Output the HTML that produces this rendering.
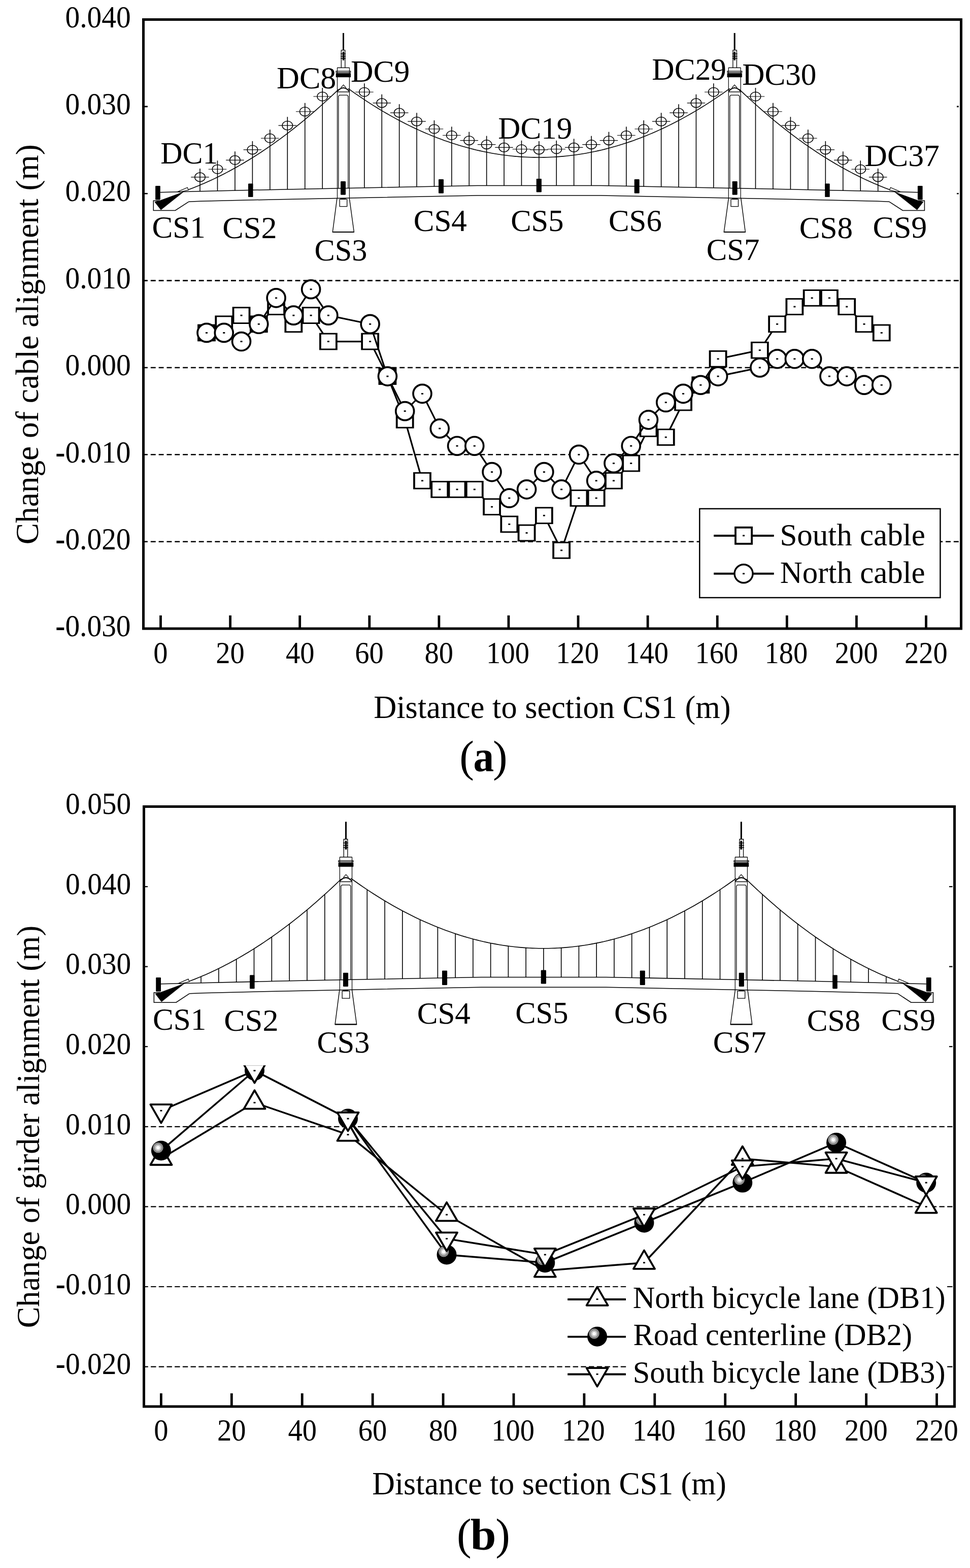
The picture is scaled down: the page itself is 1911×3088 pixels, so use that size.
<!DOCTYPE html>
<html><head><meta charset="utf-8"><title>Cable and girder alignment change</title><style>html,body{margin:0;padding:0;background:#fff;}svg{display:block;}</style></head><body>
<svg width="1911" height="3088" viewBox="0 0 1911 3088">
<rect x="0" y="0" width="1911" height="3088" fill="#fff"/>
<g style="font-family:'Liberation Serif','Times New Roman',serif" fill="#000" stroke="#000">
<g stroke-width="3" stroke-dasharray="9.9 5.92" fill="none">
<line x1="281" y1="209.88" x2="1890.5" y2="209.88" stroke-width="2.6" />
<line x1="281" y1="381.24" x2="1890.5" y2="381.24" stroke-width="2.6" />
<line x1="281" y1="552.6" x2="1890.5" y2="552.6" stroke-width="2.6" />
<line x1="281" y1="723.96" x2="1890.5" y2="723.96" stroke-width="2.6" />
<line x1="281" y1="895.32" x2="1890.5" y2="895.32" stroke-width="2.6" />
<line x1="281" y1="1066.68" x2="1890.5" y2="1066.68" stroke-width="2.6" />
</g>
<rect x="291" y="42" width="1594" height="488" fill="#fff" stroke="none"/>
<g fill="none" stroke-linecap="butt">
<polyline points="371.7,373.35 376.71,371.45 381.71,369.5 386.72,367.5 391.72,365.45 396.73,363.35 401.73,361.2 406.74,359 411.74,356.75 416.75,354.45 421.75,352.1 426.76,349.7 431.76,347.25 436.77,344.75 441.77,342.2 446.78,339.61 451.78,336.96 456.79,334.26 461.79,331.51 466.8,328.72 471.8,325.87 476.81,322.97 481.81,320.03 486.82,317.03 491.82,313.99 496.83,310.89 501.83,307.75 506.84,304.55 511.84,301.31 516.85,298.01 521.85,294.67 526.86,291.27 531.86,287.83 536.87,284.34 541.87,280.79 546.88,277.2 551.88,273.56 556.89,269.86 561.89,266.12 566.9,262.33 571.9,258.49 576.91,254.6 581.91,250.65 586.92,246.66 591.92,242.62 596.93,238.53 601.93,234.39 606.94,230.2 611.94,225.96 616.95,221.67 621.95,217.33 626.96,212.94 631.96,208.5 636.97,204.01 641.97,199.48 646.98,194.89 651.98,190.25 656.99,185.56 661.99,180.82 667,176.04" fill="none" stroke-width="1.6" />
<polyline points="1752,373.35 1746.99,371.45 1741.99,369.5 1736.98,367.5 1731.98,365.45 1726.97,363.35 1721.97,361.2 1716.96,359 1711.96,356.75 1706.95,354.45 1701.95,352.1 1696.94,349.7 1691.94,347.25 1686.93,344.75 1681.93,342.2 1676.92,339.61 1671.92,336.96 1666.91,334.26 1661.91,331.51 1656.9,328.72 1651.9,325.87 1646.89,322.97 1641.89,320.03 1636.88,317.03 1631.88,313.99 1626.87,310.89 1621.87,307.75 1616.86,304.55 1611.86,301.31 1606.85,298.01 1601.85,294.67 1596.84,291.27 1591.84,287.83 1586.83,284.34 1581.83,280.79 1576.82,277.2 1571.82,273.56 1566.81,269.86 1561.81,266.12 1556.8,262.33 1551.8,258.49 1546.79,254.6 1541.79,250.65 1536.78,246.66 1531.78,242.62 1526.77,238.53 1521.77,234.39 1516.76,230.2 1511.76,225.96 1506.75,221.67 1501.75,217.33 1496.74,212.94 1491.74,208.5 1486.73,204.01 1481.73,199.48 1476.72,194.89 1471.72,190.25 1466.71,185.56 1461.71,180.82 1456.7,176.04" fill="none" stroke-width="1.6" />
<polyline points="686,174.32 692.32,178.84 698.63,183.29 704.95,187.66 711.27,191.95 717.58,196.16 723.9,200.3 730.22,204.37 736.53,208.35 742.85,212.26 749.17,216.09 755.48,219.85 761.8,223.53 768.12,227.13 774.44,230.66 780.75,234.11 787.07,237.48 793.39,240.78 799.7,243.99 806.02,247.14 812.34,250.2 818.65,253.19 824.97,256.11 831.29,258.94 837.6,261.7 843.92,264.38 850.24,266.99 856.55,269.52 862.87,271.97 869.19,274.35 875.5,276.65 881.82,278.87 888.14,281.02 894.45,283.09 900.77,285.08 907.09,287 913.41,288.83 919.72,290.6 926.04,292.28 932.36,293.89 938.67,295.43 944.99,296.88 951.31,298.26 957.62,299.57 963.94,300.79 970.26,301.94 976.57,303.02 982.89,304.01 989.21,304.93 995.52,305.77 1001.84,306.54 1008.16,307.23 1014.47,307.84 1020.79,308.38 1027.11,308.84 1033.42,309.22 1039.74,309.53 1046.06,309.76 1052.37,309.91 1058.69,309.99 1065.01,309.99 1071.33,309.91 1077.64,309.76 1083.96,309.53 1090.28,309.22 1096.59,308.84 1102.91,308.38 1109.23,307.84 1115.54,307.23 1121.86,306.54 1128.18,305.77 1134.49,304.93 1140.81,304.01 1147.13,303.02 1153.44,301.94 1159.76,300.79 1166.08,299.57 1172.39,298.26 1178.71,296.88 1185.03,295.43 1191.34,293.89 1197.66,292.28 1203.98,290.6 1210.29,288.83 1216.61,287 1222.93,285.08 1229.25,283.09 1235.56,281.02 1241.88,278.87 1248.2,276.65 1254.51,274.35 1260.83,271.97 1267.15,269.52 1273.46,266.99 1279.78,264.38 1286.1,261.7 1292.41,258.94 1298.73,256.11 1305.05,253.19 1311.36,250.2 1317.68,247.14 1324,243.99 1330.31,240.78 1336.63,237.48 1342.95,234.11 1349.26,230.66 1355.58,227.13 1361.9,223.53 1368.22,219.85 1374.53,216.09 1380.85,212.26 1387.17,208.35 1393.48,204.37 1399.8,200.3 1406.12,196.16 1412.43,191.95 1418.75,187.66 1425.07,183.29 1431.38,178.84 1437.7,174.32" fill="none" stroke-width="1.6" />
<line x1="394" y1="331.9" x2="394" y2="376.83" stroke-width="1.6" />
<line x1="428.46" y1="316.27" x2="428.46" y2="376.02" stroke-width="1.6" />
<line x1="462.92" y1="298.29" x2="462.92" y2="375.21" stroke-width="1.6" />
<line x1="497.38" y1="277.95" x2="497.38" y2="374.4" stroke-width="1.6" />
<line x1="531.84" y1="255.24" x2="531.84" y2="373.59" stroke-width="1.6" />
<line x1="566.3" y1="230.18" x2="566.3" y2="372.87" stroke-width="1.6" />
<line x1="600.76" y1="202.77" x2="600.76" y2="372.18" stroke-width="1.6" />
<line x1="635.22" y1="172.99" x2="635.22" y2="371.48" stroke-width="1.6" />
<line x1="717.85" y1="164.24" x2="717.85" y2="369.85" stroke-width="1.6" />
<line x1="752.25" y1="185.84" x2="752.25" y2="369.19" stroke-width="1.6" />
<line x1="786.65" y1="205.16" x2="786.65" y2="368.53" stroke-width="1.6" />
<line x1="821.05" y1="222.21" x2="821.05" y2="367.87" stroke-width="1.6" />
<line x1="855.45" y1="236.98" x2="855.45" y2="367.22" stroke-width="1.6" />
<line x1="889.85" y1="249.49" x2="889.85" y2="366.56" stroke-width="1.6" />
<line x1="924.25" y1="259.71" x2="924.25" y2="365.9" stroke-width="1.6" />
<line x1="958.65" y1="267.67" x2="958.65" y2="365.6" stroke-width="1.6" />
<line x1="993.05" y1="273.35" x2="993.05" y2="365.6" stroke-width="1.6" />
<line x1="1027.45" y1="276.76" x2="1027.45" y2="365.6" stroke-width="1.6" />
<line x1="1061.85" y1="277.9" x2="1061.85" y2="365.6" stroke-width="1.6" />
<line x1="1096.25" y1="276.76" x2="1096.25" y2="365.6" stroke-width="1.6" />
<line x1="1130.65" y1="273.35" x2="1130.65" y2="365.6" stroke-width="1.6" />
<line x1="1165.05" y1="267.67" x2="1165.05" y2="365.6" stroke-width="1.6" />
<line x1="1199.45" y1="259.71" x2="1199.45" y2="365.9" stroke-width="1.6" />
<line x1="1233.85" y1="249.49" x2="1233.85" y2="366.56" stroke-width="1.6" />
<line x1="1268.25" y1="236.98" x2="1268.25" y2="367.22" stroke-width="1.6" />
<line x1="1302.65" y1="222.21" x2="1302.65" y2="367.87" stroke-width="1.6" />
<line x1="1337.05" y1="205.16" x2="1337.05" y2="368.53" stroke-width="1.6" />
<line x1="1371.45" y1="185.84" x2="1371.45" y2="369.19" stroke-width="1.6" />
<line x1="1405.85" y1="164.24" x2="1405.85" y2="369.85" stroke-width="1.6" />
<line x1="1488.48" y1="172.99" x2="1488.48" y2="371.48" stroke-width="1.6" />
<line x1="1522.94" y1="202.77" x2="1522.94" y2="372.18" stroke-width="1.6" />
<line x1="1557.4" y1="230.18" x2="1557.4" y2="372.87" stroke-width="1.6" />
<line x1="1591.86" y1="255.24" x2="1591.86" y2="373.59" stroke-width="1.6" />
<line x1="1626.32" y1="277.95" x2="1626.32" y2="374.4" stroke-width="1.6" />
<line x1="1660.78" y1="298.29" x2="1660.78" y2="375.21" stroke-width="1.6" />
<line x1="1695.24" y1="316.27" x2="1695.24" y2="376.02" stroke-width="1.6" />
<line x1="1729.7" y1="331.9" x2="1729.7" y2="376.83" stroke-width="1.6" />
<polyline points="315.8,378.8 395,376.8 540,373.4 689,370.4 940,365.6 1061.85,365.6 1183.7,365.6 1434.7,370.4 1583.7,373.4 1728.7,376.8 1807.9,378.8" fill="none" stroke-width="1.5" />
<polyline points="371.7,397.3 395,396.3 540,392.9 689,389.9 940,385.1 1061.85,385.1 1183.7,385.1 1434.7,389.9 1583.7,392.9 1728.7,396.3 1752,397.3" fill="none" stroke-width="1.5" />
<polyline points="315,395.3 302.3,395.3 302.3,414.5 345.3,414.5 371.7,397.3" fill="none" stroke-width="1.5" />
<polygon points="304.9,397.7 314.5,395.3 361,378.2 317,413.2" fill="#000" stroke-width="0.8" />
<polygon points="350,377.6 369.2,369.3 371.3,374.3 354.5,378.2" fill="none" stroke-width="1.2" />
<line x1="676.5" y1="65" x2="676.5" y2="99" stroke-width="3" />
<polyline points="672.3,133.3 672.3,98.8 679.8,98.8 679.8,133.3" fill="none" stroke-width="1.3" />
<polygon points="675,102 678,102 678,118.5 675,118.5" fill="#000" stroke-width="0.5" />
<line x1="671" y1="106" x2="681" y2="106" stroke-width="1.4" />
<line x1="671" y1="110.7" x2="681" y2="110.7" stroke-width="1.4" />
<line x1="671" y1="114.9" x2="681" y2="114.9" stroke-width="1.4" />
<line x1="664.2" y1="133.4" x2="688.7" y2="133.4" stroke-width="1.4" />
<polygon points="662,140.1 690.7,140.1 690.7,142.6 662,142.6" fill="none" stroke-width="1.2" />
<polygon points="662,144.3 690.9,144.3 690.9,151.9 662,151.9" fill="#000" stroke-width="0.5" />
<line x1="664.5" y1="133.4" x2="664.5" y2="390.3" stroke-width="1.2" />
<line x1="688.4" y1="133.4" x2="688.4" y2="390.3" stroke-width="1.2" />
<polyline points="671.4,172.8 676.6,167.2 681.8,172.8" fill="none" stroke-width="1.2" />
<path d="M 664.9,179.5 Q 676.4,166.5 687.9,179.5" fill="none" stroke-width="2.2"/>
<line x1="664.5" y1="181" x2="688.4" y2="181" stroke-width="1.4" />
<polyline points="666.8,370.5 666.8,189.5 668.8,187.3 683.9,187.3 685.9,189.5 685.9,370.5" fill="none" stroke-width="1.3" />
<polyline points="664,390.3 655.3,457 697.4,457 688.3,390.3" fill="none" stroke-width="1.4" />
<line x1="655.3" y1="457" x2="697.4" y2="457" stroke-width="2.2" />
<polygon points="669.2,392.3 683.7,392.3 683.7,406.6 669.2,406.6" fill="none" stroke-width="1.3" />
<polygon points="671,390.3 680.7,390.3 680.7,392.5 671,392.5" fill="#000" stroke-width="0.5" />
<polyline points="1808.7,395.3 1821.4,395.3 1821.4,414.5 1778.4,414.5 1752,397.3" fill="none" stroke-width="1.5" />
<polygon points="1818.8,397.7 1809.2,395.3 1762.7,378.2 1806.7,413.2" fill="#000" stroke-width="0.8" />
<polygon points="1773.7,377.6 1754.5,369.3 1752.4,374.3 1769.2,378.2" fill="none" stroke-width="1.2" />
<line x1="1447.2" y1="65" x2="1447.2" y2="99" stroke-width="3" />
<polyline points="1451.4,133.3 1451.4,98.8 1443.9,98.8 1443.9,133.3" fill="none" stroke-width="1.3" />
<polygon points="1448.7,102 1445.7,102 1445.7,118.5 1448.7,118.5" fill="#000" stroke-width="0.5" />
<line x1="1452.7" y1="106" x2="1442.7" y2="106" stroke-width="1.4" />
<line x1="1452.7" y1="110.7" x2="1442.7" y2="110.7" stroke-width="1.4" />
<line x1="1452.7" y1="114.9" x2="1442.7" y2="114.9" stroke-width="1.4" />
<line x1="1459.5" y1="133.4" x2="1435" y2="133.4" stroke-width="1.4" />
<polygon points="1461.7,140.1 1433,140.1 1433,142.6 1461.7,142.6" fill="none" stroke-width="1.2" />
<polygon points="1461.7,144.3 1432.8,144.3 1432.8,151.9 1461.7,151.9" fill="#000" stroke-width="0.5" />
<line x1="1459.2" y1="133.4" x2="1459.2" y2="390.3" stroke-width="1.2" />
<line x1="1435.3" y1="133.4" x2="1435.3" y2="390.3" stroke-width="1.2" />
<polyline points="1452.3,172.8 1447.1,167.2 1441.9,172.8" fill="none" stroke-width="1.2" />
<path d="M 1458.8,179.5 Q 1447.3,166.5 1435.8,179.5" fill="none" stroke-width="2.2"/>
<line x1="1459.2" y1="181" x2="1435.3" y2="181" stroke-width="1.4" />
<polyline points="1456.9,370.5 1456.9,189.5 1454.9,187.3 1439.8,187.3 1437.8,189.5 1437.8,370.5" fill="none" stroke-width="1.3" />
<polyline points="1459.7,390.3 1468.4,457 1426.3,457 1435.4,390.3" fill="none" stroke-width="1.4" />
<line x1="1468.4" y1="457" x2="1426.3" y2="457" stroke-width="2.2" />
<polygon points="1454.5,392.3 1440,392.3 1440,406.6 1454.5,406.6" fill="none" stroke-width="1.3" />
<polygon points="1452.7,390.3 1443,390.3 1443,392.5 1452.7,392.5" fill="#000" stroke-width="0.5" />
<rect x="306.1" y="366.1" width="9.7" height="27.3" rx="1.2" fill="#000" stroke="none"/>
<rect x="489" y="361.6" width="9.5" height="26.5" rx="1.2" fill="#000" stroke="none"/>
<rect x="671" y="357" width="10" height="26.8" rx="1.2" fill="#000" stroke="none"/>
<rect x="864" y="352.9" width="10" height="27.9" rx="1.2" fill="#000" stroke="none"/>
<rect x="1807.9" y="366.1" width="9.7" height="27.3" rx="1.2" fill="#000" stroke="none"/>
<rect x="1625.2" y="361.6" width="9.5" height="26.5" rx="1.2" fill="#000" stroke="none"/>
<rect x="1442.7" y="357" width="10" height="26.8" rx="1.2" fill="#000" stroke="none"/>
<rect x="1249.7" y="352.9" width="10" height="27.9" rx="1.2" fill="#000" stroke="none"/>
<rect x="1056.7" y="352" width="10.2" height="26.5" rx="1.2" fill="#000" stroke="none"/>
<ellipse cx="394" cy="348.9" rx="10.2" ry="8.8" fill="none" stroke-width="1.5"/>
<line x1="376.2" y1="348.9" x2="411.8" y2="348.9" stroke-width="1.2" />
<ellipse cx="428.46" cy="333.27" rx="10.2" ry="8.8" fill="none" stroke-width="1.5"/>
<line x1="410.66" y1="333.27" x2="446.26" y2="333.27" stroke-width="1.2" />
<ellipse cx="462.92" cy="315.29" rx="10.2" ry="8.8" fill="none" stroke-width="1.5"/>
<line x1="445.12" y1="315.29" x2="480.72" y2="315.29" stroke-width="1.2" />
<ellipse cx="497.38" cy="294.95" rx="10.2" ry="8.8" fill="none" stroke-width="1.5"/>
<line x1="479.58" y1="294.95" x2="515.18" y2="294.95" stroke-width="1.2" />
<ellipse cx="531.84" cy="272.24" rx="10.2" ry="8.8" fill="none" stroke-width="1.5"/>
<line x1="514.04" y1="272.24" x2="549.64" y2="272.24" stroke-width="1.2" />
<ellipse cx="566.3" cy="247.18" rx="10.2" ry="8.8" fill="none" stroke-width="1.5"/>
<line x1="548.5" y1="247.18" x2="584.1" y2="247.18" stroke-width="1.2" />
<ellipse cx="600.76" cy="219.77" rx="10.2" ry="8.8" fill="none" stroke-width="1.5"/>
<line x1="582.96" y1="219.77" x2="618.56" y2="219.77" stroke-width="1.2" />
<ellipse cx="635.22" cy="189.99" rx="10.2" ry="8.8" fill="none" stroke-width="1.5"/>
<line x1="617.42" y1="189.99" x2="653.02" y2="189.99" stroke-width="1.2" />
<ellipse cx="717.85" cy="181.24" rx="10.2" ry="8.8" fill="none" stroke-width="1.5"/>
<line x1="700.05" y1="181.24" x2="735.65" y2="181.24" stroke-width="1.2" />
<ellipse cx="752.25" cy="202.84" rx="10.2" ry="8.8" fill="none" stroke-width="1.5"/>
<line x1="734.45" y1="202.84" x2="770.05" y2="202.84" stroke-width="1.2" />
<ellipse cx="786.65" cy="222.16" rx="10.2" ry="8.8" fill="none" stroke-width="1.5"/>
<line x1="768.85" y1="222.16" x2="804.45" y2="222.16" stroke-width="1.2" />
<ellipse cx="821.05" cy="239.21" rx="10.2" ry="8.8" fill="none" stroke-width="1.5"/>
<line x1="803.25" y1="239.21" x2="838.85" y2="239.21" stroke-width="1.2" />
<ellipse cx="855.45" cy="253.98" rx="10.2" ry="8.8" fill="none" stroke-width="1.5"/>
<line x1="837.65" y1="253.98" x2="873.25" y2="253.98" stroke-width="1.2" />
<ellipse cx="889.85" cy="266.49" rx="10.2" ry="8.8" fill="none" stroke-width="1.5"/>
<line x1="872.05" y1="266.49" x2="907.65" y2="266.49" stroke-width="1.2" />
<ellipse cx="924.25" cy="276.71" rx="10.2" ry="8.8" fill="none" stroke-width="1.5"/>
<line x1="906.45" y1="276.71" x2="942.05" y2="276.71" stroke-width="1.2" />
<ellipse cx="958.65" cy="284.67" rx="10.2" ry="8.8" fill="none" stroke-width="1.5"/>
<line x1="940.85" y1="284.67" x2="976.45" y2="284.67" stroke-width="1.2" />
<ellipse cx="993.05" cy="290.35" rx="10.2" ry="8.8" fill="none" stroke-width="1.5"/>
<line x1="975.25" y1="290.35" x2="1010.85" y2="290.35" stroke-width="1.2" />
<ellipse cx="1027.45" cy="293.76" rx="10.2" ry="8.8" fill="none" stroke-width="1.5"/>
<line x1="1009.65" y1="293.76" x2="1045.25" y2="293.76" stroke-width="1.2" />
<ellipse cx="1061.85" cy="294.9" rx="10.2" ry="8.8" fill="none" stroke-width="1.5"/>
<line x1="1044.05" y1="294.9" x2="1079.65" y2="294.9" stroke-width="1.2" />
<ellipse cx="1096.25" cy="293.76" rx="10.2" ry="8.8" fill="none" stroke-width="1.5"/>
<line x1="1078.45" y1="293.76" x2="1114.05" y2="293.76" stroke-width="1.2" />
<ellipse cx="1130.65" cy="290.35" rx="10.2" ry="8.8" fill="none" stroke-width="1.5"/>
<line x1="1112.85" y1="290.35" x2="1148.45" y2="290.35" stroke-width="1.2" />
<ellipse cx="1165.05" cy="284.67" rx="10.2" ry="8.8" fill="none" stroke-width="1.5"/>
<line x1="1147.25" y1="284.67" x2="1182.85" y2="284.67" stroke-width="1.2" />
<ellipse cx="1199.45" cy="276.71" rx="10.2" ry="8.8" fill="none" stroke-width="1.5"/>
<line x1="1181.65" y1="276.71" x2="1217.25" y2="276.71" stroke-width="1.2" />
<ellipse cx="1233.85" cy="266.49" rx="10.2" ry="8.8" fill="none" stroke-width="1.5"/>
<line x1="1216.05" y1="266.49" x2="1251.65" y2="266.49" stroke-width="1.2" />
<ellipse cx="1268.25" cy="253.98" rx="10.2" ry="8.8" fill="none" stroke-width="1.5"/>
<line x1="1250.45" y1="253.98" x2="1286.05" y2="253.98" stroke-width="1.2" />
<ellipse cx="1302.65" cy="239.21" rx="10.2" ry="8.8" fill="none" stroke-width="1.5"/>
<line x1="1284.85" y1="239.21" x2="1320.45" y2="239.21" stroke-width="1.2" />
<ellipse cx="1337.05" cy="222.16" rx="10.2" ry="8.8" fill="none" stroke-width="1.5"/>
<line x1="1319.25" y1="222.16" x2="1354.85" y2="222.16" stroke-width="1.2" />
<ellipse cx="1371.45" cy="202.84" rx="10.2" ry="8.8" fill="none" stroke-width="1.5"/>
<line x1="1353.65" y1="202.84" x2="1389.25" y2="202.84" stroke-width="1.2" />
<ellipse cx="1405.85" cy="181.24" rx="10.2" ry="8.8" fill="none" stroke-width="1.5"/>
<line x1="1388.05" y1="181.24" x2="1423.65" y2="181.24" stroke-width="1.2" />
<ellipse cx="1488.48" cy="189.99" rx="10.2" ry="8.8" fill="none" stroke-width="1.5"/>
<line x1="1470.68" y1="189.99" x2="1506.28" y2="189.99" stroke-width="1.2" />
<ellipse cx="1522.94" cy="219.77" rx="10.2" ry="8.8" fill="none" stroke-width="1.5"/>
<line x1="1505.14" y1="219.77" x2="1540.74" y2="219.77" stroke-width="1.2" />
<ellipse cx="1557.4" cy="247.18" rx="10.2" ry="8.8" fill="none" stroke-width="1.5"/>
<line x1="1539.6" y1="247.18" x2="1575.2" y2="247.18" stroke-width="1.2" />
<ellipse cx="1591.86" cy="272.24" rx="10.2" ry="8.8" fill="none" stroke-width="1.5"/>
<line x1="1574.06" y1="272.24" x2="1609.66" y2="272.24" stroke-width="1.2" />
<ellipse cx="1626.32" cy="294.95" rx="10.2" ry="8.8" fill="none" stroke-width="1.5"/>
<line x1="1608.52" y1="294.95" x2="1644.12" y2="294.95" stroke-width="1.2" />
<ellipse cx="1660.78" cy="315.29" rx="10.2" ry="8.8" fill="none" stroke-width="1.5"/>
<line x1="1642.98" y1="315.29" x2="1678.58" y2="315.29" stroke-width="1.2" />
<ellipse cx="1695.24" cy="333.27" rx="10.2" ry="8.8" fill="none" stroke-width="1.5"/>
<line x1="1677.44" y1="333.27" x2="1713.04" y2="333.27" stroke-width="1.2" />
<ellipse cx="1729.7" cy="348.9" rx="10.2" ry="8.8" fill="none" stroke-width="1.5"/>
<line x1="1711.9" y1="348.9" x2="1747.5" y2="348.9" stroke-width="1.2" />
</g>
<g stroke="none">
<text x="299.46" y="467.6" font-size="61" font-weight="normal" textLength="105.3" lengthAdjust="spacingAndGlyphs" >CS1</text>
<text x="438.31" y="469.2" font-size="61" font-weight="normal" textLength="107.2" lengthAdjust="spacingAndGlyphs" >CS2</text>
<text x="619.49" y="512.6" font-size="61" font-weight="normal" textLength="103.92" lengthAdjust="spacingAndGlyphs" >CS3</text>
<text x="814.66" y="455.2" font-size="61" font-weight="normal" textLength="105.25" lengthAdjust="spacingAndGlyphs" >CS4</text>
<text x="1006.18" y="454.7" font-size="61" font-weight="normal" textLength="104.33" lengthAdjust="spacingAndGlyphs" >CS5</text>
<text x="1198.97" y="454.7" font-size="61" font-weight="normal" textLength="104.85" lengthAdjust="spacingAndGlyphs" >CS6</text>
<text x="1391.67" y="512.2" font-size="61" font-weight="normal" textLength="104.85" lengthAdjust="spacingAndGlyphs" >CS7</text>
<text x="1574.65" y="469" font-size="61" font-weight="normal" textLength="105.49" lengthAdjust="spacingAndGlyphs" >CS8</text>
<text x="1719.62" y="468" font-size="61" font-weight="normal" textLength="106.74" lengthAdjust="spacingAndGlyphs" >CS9</text>
<text x="316.3" y="321.9" font-size="60.5" font-weight="normal" textLength="113.14" lengthAdjust="spacingAndGlyphs" >DC1</text>
<text x="545.04" y="173.8" font-size="60.5" font-weight="normal" textLength="117.4" lengthAdjust="spacingAndGlyphs" >DC8</text>
<text x="691.05" y="160.9" font-size="60.5" font-weight="normal" textLength="116.36" lengthAdjust="spacingAndGlyphs" >DC9</text>
<text x="981.37" y="272.8" font-size="60.5" font-weight="normal" textLength="145.93" lengthAdjust="spacingAndGlyphs" >DC19</text>
<text x="1284.36" y="157.4" font-size="60.5" font-weight="normal" textLength="146.65" lengthAdjust="spacingAndGlyphs" >DC29</text>
<text x="1462.16" y="166.7" font-size="60.5" font-weight="normal" textLength="146.34" lengthAdjust="spacingAndGlyphs" >DC30</text>
<text x="1703.35" y="326.8" font-size="60.5" font-weight="normal" textLength="147.56" lengthAdjust="spacingAndGlyphs" >DC37</text>
</g>
<g stroke-linejoin="miter">
<polyline points="406.98,655.42 441.25,638.28 475.52,621.14 509.8,638.28 544.07,604.01 578.34,638.28 612.61,621.14 646.89,672.55 729.14,672.55 763.41,741.1 797.69,826.78 831.96,946.73 866.23,963.86 900.5,963.86 934.78,963.86 969.05,998.14 1003.32,1032.41 1037.59,1049.54 1071.87,1015.27 1106.14,1083.82 1140.41,981 1174.68,981 1208.96,946.73 1243.23,912.46 1277.5,843.91 1311.77,861.05 1346.05,792.5 1380.32,758.23 1414.59,706.82 1496.84,689.69 1531.12,638.28 1565.39,604.01 1599.66,586.87 1633.93,586.87 1668.21,604.01 1702.48,638.28 1736.75,655.42" fill="none" stroke-width="3.2" />
<rect x="389.08" y="638.57" width="35.8" height="33.7" fill="#000" stroke="none"/>
<rect x="392.88" y="641.47" width="28.2" height="27.9" fill="#fff" stroke="none"/>
<rect x="404.98" y="654.02" width="4" height="2.8" fill="#000" stroke="none"/>
<rect x="423.35" y="621.43" width="35.8" height="33.7" fill="#000" stroke="none"/>
<rect x="427.15" y="624.33" width="28.2" height="27.9" fill="#fff" stroke="none"/>
<rect x="439.25" y="636.88" width="4" height="2.8" fill="#000" stroke="none"/>
<rect x="457.62" y="604.29" width="35.8" height="33.7" fill="#000" stroke="none"/>
<rect x="461.42" y="607.19" width="28.2" height="27.9" fill="#fff" stroke="none"/>
<rect x="473.52" y="619.74" width="4" height="2.8" fill="#000" stroke="none"/>
<rect x="491.9" y="621.43" width="35.8" height="33.7" fill="#000" stroke="none"/>
<rect x="495.7" y="624.33" width="28.2" height="27.9" fill="#fff" stroke="none"/>
<rect x="507.8" y="636.88" width="4" height="2.8" fill="#000" stroke="none"/>
<rect x="526.17" y="587.16" width="35.8" height="33.7" fill="#000" stroke="none"/>
<rect x="529.97" y="590.06" width="28.2" height="27.9" fill="#fff" stroke="none"/>
<rect x="542.07" y="602.61" width="4" height="2.8" fill="#000" stroke="none"/>
<rect x="560.44" y="621.43" width="35.8" height="33.7" fill="#000" stroke="none"/>
<rect x="564.24" y="624.33" width="28.2" height="27.9" fill="#fff" stroke="none"/>
<rect x="576.34" y="636.88" width="4" height="2.8" fill="#000" stroke="none"/>
<rect x="594.71" y="604.29" width="35.8" height="33.7" fill="#000" stroke="none"/>
<rect x="598.51" y="607.19" width="28.2" height="27.9" fill="#fff" stroke="none"/>
<rect x="610.61" y="619.74" width="4" height="2.8" fill="#000" stroke="none"/>
<rect x="628.99" y="655.7" width="35.8" height="33.7" fill="#000" stroke="none"/>
<rect x="632.79" y="658.6" width="28.2" height="27.9" fill="#fff" stroke="none"/>
<rect x="644.89" y="671.15" width="4" height="2.8" fill="#000" stroke="none"/>
<rect x="711.24" y="655.7" width="35.8" height="33.7" fill="#000" stroke="none"/>
<rect x="715.04" y="658.6" width="28.2" height="27.9" fill="#fff" stroke="none"/>
<rect x="727.14" y="671.15" width="4" height="2.8" fill="#000" stroke="none"/>
<rect x="745.51" y="724.25" width="35.8" height="33.7" fill="#000" stroke="none"/>
<rect x="749.31" y="727.15" width="28.2" height="27.9" fill="#fff" stroke="none"/>
<rect x="761.41" y="739.7" width="4" height="2.8" fill="#000" stroke="none"/>
<rect x="779.79" y="809.93" width="35.8" height="33.7" fill="#000" stroke="none"/>
<rect x="783.59" y="812.83" width="28.2" height="27.9" fill="#fff" stroke="none"/>
<rect x="795.69" y="825.38" width="4" height="2.8" fill="#000" stroke="none"/>
<rect x="814.06" y="929.88" width="35.8" height="33.7" fill="#000" stroke="none"/>
<rect x="817.86" y="932.78" width="28.2" height="27.9" fill="#fff" stroke="none"/>
<rect x="829.96" y="945.33" width="4" height="2.8" fill="#000" stroke="none"/>
<rect x="848.33" y="947.01" width="35.8" height="33.7" fill="#000" stroke="none"/>
<rect x="852.13" y="949.91" width="28.2" height="27.9" fill="#fff" stroke="none"/>
<rect x="864.23" y="962.46" width="4" height="2.8" fill="#000" stroke="none"/>
<rect x="882.6" y="947.01" width="35.8" height="33.7" fill="#000" stroke="none"/>
<rect x="886.4" y="949.91" width="28.2" height="27.9" fill="#fff" stroke="none"/>
<rect x="898.5" y="962.46" width="4" height="2.8" fill="#000" stroke="none"/>
<rect x="916.88" y="947.01" width="35.8" height="33.7" fill="#000" stroke="none"/>
<rect x="920.68" y="949.91" width="28.2" height="27.9" fill="#fff" stroke="none"/>
<rect x="932.78" y="962.46" width="4" height="2.8" fill="#000" stroke="none"/>
<rect x="951.15" y="981.29" width="35.8" height="33.7" fill="#000" stroke="none"/>
<rect x="954.95" y="984.19" width="28.2" height="27.9" fill="#fff" stroke="none"/>
<rect x="967.05" y="996.74" width="4" height="2.8" fill="#000" stroke="none"/>
<rect x="985.42" y="1015.56" width="35.8" height="33.7" fill="#000" stroke="none"/>
<rect x="989.22" y="1018.46" width="28.2" height="27.9" fill="#fff" stroke="none"/>
<rect x="1001.32" y="1031.01" width="4" height="2.8" fill="#000" stroke="none"/>
<rect x="1019.69" y="1032.69" width="35.8" height="33.7" fill="#000" stroke="none"/>
<rect x="1023.49" y="1035.59" width="28.2" height="27.9" fill="#fff" stroke="none"/>
<rect x="1035.59" y="1048.14" width="4" height="2.8" fill="#000" stroke="none"/>
<rect x="1053.97" y="998.42" width="35.8" height="33.7" fill="#000" stroke="none"/>
<rect x="1057.77" y="1001.32" width="28.2" height="27.9" fill="#fff" stroke="none"/>
<rect x="1069.87" y="1013.87" width="4" height="2.8" fill="#000" stroke="none"/>
<rect x="1088.24" y="1066.97" width="35.8" height="33.7" fill="#000" stroke="none"/>
<rect x="1092.04" y="1069.87" width="28.2" height="27.9" fill="#fff" stroke="none"/>
<rect x="1104.14" y="1082.42" width="4" height="2.8" fill="#000" stroke="none"/>
<rect x="1122.51" y="964.15" width="35.8" height="33.7" fill="#000" stroke="none"/>
<rect x="1126.31" y="967.05" width="28.2" height="27.9" fill="#fff" stroke="none"/>
<rect x="1138.41" y="979.6" width="4" height="2.8" fill="#000" stroke="none"/>
<rect x="1156.78" y="964.15" width="35.8" height="33.7" fill="#000" stroke="none"/>
<rect x="1160.58" y="967.05" width="28.2" height="27.9" fill="#fff" stroke="none"/>
<rect x="1172.68" y="979.6" width="4" height="2.8" fill="#000" stroke="none"/>
<rect x="1191.06" y="929.88" width="35.8" height="33.7" fill="#000" stroke="none"/>
<rect x="1194.86" y="932.78" width="28.2" height="27.9" fill="#fff" stroke="none"/>
<rect x="1206.96" y="945.33" width="4" height="2.8" fill="#000" stroke="none"/>
<rect x="1225.33" y="895.61" width="35.8" height="33.7" fill="#000" stroke="none"/>
<rect x="1229.13" y="898.51" width="28.2" height="27.9" fill="#fff" stroke="none"/>
<rect x="1241.23" y="911.06" width="4" height="2.8" fill="#000" stroke="none"/>
<rect x="1259.6" y="827.06" width="35.8" height="33.7" fill="#000" stroke="none"/>
<rect x="1263.4" y="829.96" width="28.2" height="27.9" fill="#fff" stroke="none"/>
<rect x="1275.5" y="842.51" width="4" height="2.8" fill="#000" stroke="none"/>
<rect x="1293.87" y="844.2" width="35.8" height="33.7" fill="#000" stroke="none"/>
<rect x="1297.67" y="847.1" width="28.2" height="27.9" fill="#fff" stroke="none"/>
<rect x="1309.77" y="859.65" width="4" height="2.8" fill="#000" stroke="none"/>
<rect x="1328.15" y="775.65" width="35.8" height="33.7" fill="#000" stroke="none"/>
<rect x="1331.95" y="778.55" width="28.2" height="27.9" fill="#fff" stroke="none"/>
<rect x="1344.05" y="791.1" width="4" height="2.8" fill="#000" stroke="none"/>
<rect x="1362.42" y="741.38" width="35.8" height="33.7" fill="#000" stroke="none"/>
<rect x="1366.22" y="744.28" width="28.2" height="27.9" fill="#fff" stroke="none"/>
<rect x="1378.32" y="756.83" width="4" height="2.8" fill="#000" stroke="none"/>
<rect x="1396.69" y="689.97" width="35.8" height="33.7" fill="#000" stroke="none"/>
<rect x="1400.49" y="692.87" width="28.2" height="27.9" fill="#fff" stroke="none"/>
<rect x="1412.59" y="705.42" width="4" height="2.8" fill="#000" stroke="none"/>
<rect x="1478.94" y="672.84" width="35.8" height="33.7" fill="#000" stroke="none"/>
<rect x="1482.74" y="675.74" width="28.2" height="27.9" fill="#fff" stroke="none"/>
<rect x="1494.84" y="688.29" width="4" height="2.8" fill="#000" stroke="none"/>
<rect x="1513.22" y="621.43" width="35.8" height="33.7" fill="#000" stroke="none"/>
<rect x="1517.02" y="624.33" width="28.2" height="27.9" fill="#fff" stroke="none"/>
<rect x="1529.12" y="636.88" width="4" height="2.8" fill="#000" stroke="none"/>
<rect x="1547.49" y="587.16" width="35.8" height="33.7" fill="#000" stroke="none"/>
<rect x="1551.29" y="590.06" width="28.2" height="27.9" fill="#fff" stroke="none"/>
<rect x="1563.39" y="602.61" width="4" height="2.8" fill="#000" stroke="none"/>
<rect x="1581.76" y="570.02" width="35.8" height="33.7" fill="#000" stroke="none"/>
<rect x="1585.56" y="572.92" width="28.2" height="27.9" fill="#fff" stroke="none"/>
<rect x="1597.66" y="585.47" width="4" height="2.8" fill="#000" stroke="none"/>
<rect x="1616.03" y="570.02" width="35.8" height="33.7" fill="#000" stroke="none"/>
<rect x="1619.83" y="572.92" width="28.2" height="27.9" fill="#fff" stroke="none"/>
<rect x="1631.93" y="585.47" width="4" height="2.8" fill="#000" stroke="none"/>
<rect x="1650.31" y="587.16" width="35.8" height="33.7" fill="#000" stroke="none"/>
<rect x="1654.11" y="590.06" width="28.2" height="27.9" fill="#fff" stroke="none"/>
<rect x="1666.21" y="602.61" width="4" height="2.8" fill="#000" stroke="none"/>
<rect x="1684.58" y="621.43" width="35.8" height="33.7" fill="#000" stroke="none"/>
<rect x="1688.38" y="624.33" width="28.2" height="27.9" fill="#fff" stroke="none"/>
<rect x="1700.48" y="636.88" width="4" height="2.8" fill="#000" stroke="none"/>
<rect x="1718.85" y="638.57" width="35.8" height="33.7" fill="#000" stroke="none"/>
<rect x="1722.65" y="641.47" width="28.2" height="27.9" fill="#fff" stroke="none"/>
<rect x="1734.75" y="654.02" width="4" height="2.8" fill="#000" stroke="none"/>
<polyline points="406.98,655.42 441.25,655.42 475.52,672.55 509.8,638.28 544.07,586.87 578.34,621.14 612.61,569.74 646.89,621.14 729.14,638.28 763.41,741.1 797.69,809.64 831.96,775.37 866.23,843.91 900.5,878.18 934.78,878.18 969.05,929.59 1003.32,981 1037.59,963.86 1071.87,929.59 1106.14,963.86 1140.41,895.32 1174.68,946.73 1208.96,912.46 1243.23,878.18 1277.5,826.78 1311.77,792.5 1346.05,775.37 1380.32,758.23 1414.59,741.1 1496.84,723.96 1531.12,706.82 1565.39,706.82 1599.66,706.82 1633.93,741.1 1668.21,741.1 1702.48,758.23 1736.75,758.23" fill="none" stroke-width="3.2" />
<circle cx="406.98" cy="655.42" r="17.95" fill="#fff" stroke-width="3.7"/>
<rect x="404.98" y="654.02" width="4" height="2.8" fill="#000" stroke="none"/>
<circle cx="441.25" cy="655.42" r="17.95" fill="#fff" stroke-width="3.7"/>
<rect x="439.25" y="654.02" width="4" height="2.8" fill="#000" stroke="none"/>
<circle cx="475.52" cy="672.55" r="17.95" fill="#fff" stroke-width="3.7"/>
<rect x="473.52" y="671.15" width="4" height="2.8" fill="#000" stroke="none"/>
<circle cx="509.8" cy="638.28" r="17.95" fill="#fff" stroke-width="3.7"/>
<rect x="507.8" y="636.88" width="4" height="2.8" fill="#000" stroke="none"/>
<circle cx="544.07" cy="586.87" r="17.95" fill="#fff" stroke-width="3.7"/>
<rect x="542.07" y="585.47" width="4" height="2.8" fill="#000" stroke="none"/>
<circle cx="578.34" cy="621.14" r="17.95" fill="#fff" stroke-width="3.7"/>
<rect x="576.34" y="619.74" width="4" height="2.8" fill="#000" stroke="none"/>
<circle cx="612.61" cy="569.74" r="17.95" fill="#fff" stroke-width="3.7"/>
<rect x="610.61" y="568.34" width="4" height="2.8" fill="#000" stroke="none"/>
<circle cx="646.89" cy="621.14" r="17.95" fill="#fff" stroke-width="3.7"/>
<rect x="644.89" y="619.74" width="4" height="2.8" fill="#000" stroke="none"/>
<circle cx="729.14" cy="638.28" r="17.95" fill="#fff" stroke-width="3.7"/>
<rect x="727.14" y="636.88" width="4" height="2.8" fill="#000" stroke="none"/>
<circle cx="763.41" cy="741.1" r="17.95" fill="#fff" stroke-width="3.7"/>
<rect x="761.41" y="739.7" width="4" height="2.8" fill="#000" stroke="none"/>
<circle cx="797.69" cy="809.64" r="17.95" fill="#fff" stroke-width="3.7"/>
<rect x="795.69" y="808.24" width="4" height="2.8" fill="#000" stroke="none"/>
<circle cx="831.96" cy="775.37" r="17.95" fill="#fff" stroke-width="3.7"/>
<rect x="829.96" y="773.97" width="4" height="2.8" fill="#000" stroke="none"/>
<circle cx="866.23" cy="843.91" r="17.95" fill="#fff" stroke-width="3.7"/>
<rect x="864.23" y="842.51" width="4" height="2.8" fill="#000" stroke="none"/>
<circle cx="900.5" cy="878.18" r="17.95" fill="#fff" stroke-width="3.7"/>
<rect x="898.5" y="876.78" width="4" height="2.8" fill="#000" stroke="none"/>
<circle cx="934.78" cy="878.18" r="17.95" fill="#fff" stroke-width="3.7"/>
<rect x="932.78" y="876.78" width="4" height="2.8" fill="#000" stroke="none"/>
<circle cx="969.05" cy="929.59" r="17.95" fill="#fff" stroke-width="3.7"/>
<rect x="967.05" y="928.19" width="4" height="2.8" fill="#000" stroke="none"/>
<circle cx="1003.32" cy="981" r="17.95" fill="#fff" stroke-width="3.7"/>
<rect x="1001.32" y="979.6" width="4" height="2.8" fill="#000" stroke="none"/>
<circle cx="1037.59" cy="963.86" r="17.95" fill="#fff" stroke-width="3.7"/>
<rect x="1035.59" y="962.46" width="4" height="2.8" fill="#000" stroke="none"/>
<circle cx="1071.87" cy="929.59" r="17.95" fill="#fff" stroke-width="3.7"/>
<rect x="1069.87" y="928.19" width="4" height="2.8" fill="#000" stroke="none"/>
<circle cx="1106.14" cy="963.86" r="17.95" fill="#fff" stroke-width="3.7"/>
<rect x="1104.14" y="962.46" width="4" height="2.8" fill="#000" stroke="none"/>
<circle cx="1140.41" cy="895.32" r="17.95" fill="#fff" stroke-width="3.7"/>
<rect x="1138.41" y="893.92" width="4" height="2.8" fill="#000" stroke="none"/>
<circle cx="1174.68" cy="946.73" r="17.95" fill="#fff" stroke-width="3.7"/>
<rect x="1172.68" y="945.33" width="4" height="2.8" fill="#000" stroke="none"/>
<circle cx="1208.96" cy="912.46" r="17.95" fill="#fff" stroke-width="3.7"/>
<rect x="1206.96" y="911.06" width="4" height="2.8" fill="#000" stroke="none"/>
<circle cx="1243.23" cy="878.18" r="17.95" fill="#fff" stroke-width="3.7"/>
<rect x="1241.23" y="876.78" width="4" height="2.8" fill="#000" stroke="none"/>
<circle cx="1277.5" cy="826.78" r="17.95" fill="#fff" stroke-width="3.7"/>
<rect x="1275.5" y="825.38" width="4" height="2.8" fill="#000" stroke="none"/>
<circle cx="1311.77" cy="792.5" r="17.95" fill="#fff" stroke-width="3.7"/>
<rect x="1309.77" y="791.1" width="4" height="2.8" fill="#000" stroke="none"/>
<circle cx="1346.05" cy="775.37" r="17.95" fill="#fff" stroke-width="3.7"/>
<rect x="1344.05" y="773.97" width="4" height="2.8" fill="#000" stroke="none"/>
<circle cx="1380.32" cy="758.23" r="17.95" fill="#fff" stroke-width="3.7"/>
<rect x="1378.32" y="756.83" width="4" height="2.8" fill="#000" stroke="none"/>
<circle cx="1414.59" cy="741.1" r="17.95" fill="#fff" stroke-width="3.7"/>
<rect x="1412.59" y="739.7" width="4" height="2.8" fill="#000" stroke="none"/>
<circle cx="1496.84" cy="723.96" r="17.95" fill="#fff" stroke-width="3.7"/>
<rect x="1494.84" y="722.56" width="4" height="2.8" fill="#000" stroke="none"/>
<circle cx="1531.12" cy="706.82" r="17.95" fill="#fff" stroke-width="3.7"/>
<rect x="1529.12" y="705.42" width="4" height="2.8" fill="#000" stroke="none"/>
<circle cx="1565.39" cy="706.82" r="17.95" fill="#fff" stroke-width="3.7"/>
<rect x="1563.39" y="705.42" width="4" height="2.8" fill="#000" stroke="none"/>
<circle cx="1599.66" cy="706.82" r="17.95" fill="#fff" stroke-width="3.7"/>
<rect x="1597.66" y="705.42" width="4" height="2.8" fill="#000" stroke="none"/>
<circle cx="1633.93" cy="741.1" r="17.95" fill="#fff" stroke-width="3.7"/>
<rect x="1631.93" y="739.7" width="4" height="2.8" fill="#000" stroke="none"/>
<circle cx="1668.21" cy="741.1" r="17.95" fill="#fff" stroke-width="3.7"/>
<rect x="1666.21" y="739.7" width="4" height="2.8" fill="#000" stroke="none"/>
<circle cx="1702.48" cy="758.23" r="17.95" fill="#fff" stroke-width="3.7"/>
<rect x="1700.48" y="756.83" width="4" height="2.8" fill="#000" stroke="none"/>
<circle cx="1736.75" cy="758.23" r="17.95" fill="#fff" stroke-width="3.7"/>
<rect x="1734.75" y="756.83" width="4" height="2.8" fill="#000" stroke="none"/>
</g>
<rect x="1378.3" y="1001.9" width="474.1" height="175.1" fill="#fff" stroke-width="2.5"/>
<line x1="1406.2" y1="1055" x2="1524.7" y2="1055" stroke-width="4.0" />
<rect x="1449" y="1038.8" width="32.1" height="32.1" fill="#fff" stroke-width="3.8"/>
<rect x="1463.05" y="1053.45" width="4" height="2.8" fill="#000" stroke="none"/>
<line x1="1406.2" y1="1129.8" x2="1524.7" y2="1129.8" stroke-width="4.0" />
<circle cx="1465.05" cy="1129.8" r="18" fill="#fff" stroke-width="3.4"/>
<rect x="1463.05" y="1128.4" width="4" height="2.8" fill="#000" stroke="none"/>
<g stroke="none">
<text x="1536.43" y="1073.9" font-size="62" font-weight="normal" textLength="286.3" lengthAdjust="spacingAndGlyphs" >South cable</text>
<text x="1536.77" y="1148" font-size="62" font-weight="normal" textLength="285.9" lengthAdjust="spacingAndGlyphs" >North cable</text>
</g>
<rect x="282.5" y="38.5" width="1611" height="1199.5" fill="none" stroke-width="5"/>
<line x1="316.5" y1="1212" x2="316.5" y2="1238" stroke-width="4.8" />
<line x1="453.59" y1="1212" x2="453.59" y2="1238" stroke-width="4.8" />
<line x1="590.68" y1="1212" x2="590.68" y2="1238" stroke-width="4.8" />
<line x1="727.77" y1="1212" x2="727.77" y2="1238" stroke-width="4.8" />
<line x1="864.86" y1="1212" x2="864.86" y2="1238" stroke-width="4.8" />
<line x1="1001.95" y1="1212" x2="1001.95" y2="1238" stroke-width="4.8" />
<line x1="1139.04" y1="1212" x2="1139.04" y2="1238" stroke-width="4.8" />
<line x1="1276.13" y1="1212" x2="1276.13" y2="1238" stroke-width="4.8" />
<line x1="1413.22" y1="1212" x2="1413.22" y2="1238" stroke-width="4.8" />
<line x1="1550.31" y1="1212" x2="1550.31" y2="1238" stroke-width="4.8" />
<line x1="1687.4" y1="1212" x2="1687.4" y2="1238" stroke-width="4.8" />
<line x1="1824.49" y1="1212" x2="1824.49" y2="1238" stroke-width="4.8" />
<g stroke="none">
<text x="128.5" y="53.7" font-size="61" textLength="129.19" lengthAdjust="spacingAndGlyphs">0.040</text>
<text x="128.5" y="225.06" font-size="61" textLength="129.19" lengthAdjust="spacingAndGlyphs">0.030</text>
<text x="128.5" y="396.42" font-size="61" textLength="129.19" lengthAdjust="spacingAndGlyphs">0.020</text>
<text x="128.5" y="567.78" font-size="61" textLength="129.19" lengthAdjust="spacingAndGlyphs">0.010</text>
<text x="128.5" y="739.14" font-size="61" textLength="129.19" lengthAdjust="spacingAndGlyphs">0.000</text>
<text x="109.27" y="910.5" font-size="61" textLength="148.32" lengthAdjust="spacingAndGlyphs"><tspan font-weight="bold">-</tspan>0.010</text>
<text x="109.27" y="1081.86" font-size="61" textLength="148.32" lengthAdjust="spacingAndGlyphs"><tspan font-weight="bold">-</tspan>0.020</text>
<text x="109.27" y="1253.22" font-size="61" textLength="148.32" lengthAdjust="spacingAndGlyphs"><tspan font-weight="bold">-</tspan>0.030</text>
<text x="302.36" y="1305.6" font-size="61" textLength="28.28" lengthAdjust="spacingAndGlyphs">0</text>
<text x="425.17" y="1305.6" font-size="61" textLength="56.55" lengthAdjust="spacingAndGlyphs">20</text>
<text x="562.97" y="1305.6" font-size="61" textLength="56.55" lengthAdjust="spacingAndGlyphs">40</text>
<text x="699.35" y="1305.6" font-size="61" textLength="56.55" lengthAdjust="spacingAndGlyphs">60</text>
<text x="836.59" y="1305.6" font-size="61" textLength="56.55" lengthAdjust="spacingAndGlyphs">80</text>
<text x="958.12" y="1305.6" font-size="61" textLength="84.82" lengthAdjust="spacingAndGlyphs">100</text>
<text x="1095.21" y="1305.6" font-size="61" textLength="84.82" lengthAdjust="spacingAndGlyphs">120</text>
<text x="1232.3" y="1305.6" font-size="61" textLength="84.82" lengthAdjust="spacingAndGlyphs">140</text>
<text x="1369.39" y="1305.6" font-size="61" textLength="84.82" lengthAdjust="spacingAndGlyphs">160</text>
<text x="1506.48" y="1305.6" font-size="61" textLength="84.82" lengthAdjust="spacingAndGlyphs">180</text>
<text x="1644.85" y="1305.6" font-size="61" textLength="84.83" lengthAdjust="spacingAndGlyphs">200</text>
<text x="1781.94" y="1305.6" font-size="61" textLength="84.83" lengthAdjust="spacingAndGlyphs">220</text>
<text x="736.23" y="1414.2" font-size="63" font-weight="normal" textLength="703.42" lengthAdjust="spacingAndGlyphs" >Distance to section CS1 (m)</text>
<text transform="translate(74.9,1069.8) rotate(-90)" x="-2.53" y="0" font-size="63" textLength="788.28" lengthAdjust="spacingAndGlyphs">Change of cable alignment (m)</text>
<text x="905.23" y="1518.5" font-size="86">(</text>
<text x="932.56" y="1518.5" font-size="86" font-weight="bold" textLength="40.66" lengthAdjust="spacingAndGlyphs">a</text>
<text x="970.96" y="1518.5" font-size="86">)</text>
</g>
<g stroke-width="2.2" stroke-dasharray="10.4 5.29" fill="none">
<line x1="281.4" y1="1746.04" x2="1877.5" y2="1746.04" stroke-width="2.2" />
<line x1="281.4" y1="1903.63" x2="1877.5" y2="1903.63" stroke-width="2.2" />
<line x1="281.4" y1="2061.22" x2="1877.5" y2="2061.22" stroke-width="2.2" />
<line x1="281.4" y1="2218.81" x2="1877.5" y2="2218.81" stroke-width="2.2" />
<line x1="281.4" y1="2376.4" x2="1877.5" y2="2376.4" stroke-width="2.2" />
<line x1="281.4" y1="2533.99" x2="1877.5" y2="2533.99" stroke-width="2.2" />
<line x1="281.4" y1="2691.58" x2="1877.5" y2="2691.58" stroke-width="2.2" />
</g>
<g stroke-linejoin="miter">
<polyline points="317.4,2281.85 501.47,2171.53 685.53,2234.57 880.02,2392.16 1073.81,2502.47 1268.99,2486.71 1462.78,2281.85 1647.54,2297.61 1824.66,2376.4" fill="none" stroke-width="3.5" />
<polygon points="317.4,2257.55 338.44,2294 296.36,2294" fill="#fff" stroke-width="3.8" stroke-linejoin="round"/>
<rect x="315.4" y="2280.45" width="4" height="2.8" fill="#000" stroke="none"/>
<polygon points="501.47,2147.23 522.51,2183.68 480.42,2183.68" fill="#fff" stroke-width="3.8" stroke-linejoin="round"/>
<rect x="499.47" y="2170.13" width="4" height="2.8" fill="#000" stroke="none"/>
<polygon points="685.53,2210.27 706.58,2246.72 664.49,2246.72" fill="#fff" stroke-width="3.8" stroke-linejoin="round"/>
<rect x="683.53" y="2233.17" width="4" height="2.8" fill="#000" stroke="none"/>
<polygon points="880.02,2367.86 901.06,2404.31 858.97,2404.31" fill="#fff" stroke-width="3.8" stroke-linejoin="round"/>
<rect x="878.02" y="2390.76" width="4" height="2.8" fill="#000" stroke="none"/>
<polygon points="1073.81,2478.17 1094.85,2514.62 1052.76,2514.62" fill="#fff" stroke-width="3.8" stroke-linejoin="round"/>
<rect x="1071.81" y="2501.07" width="4" height="2.8" fill="#000" stroke="none"/>
<polygon points="1268.99,2462.41 1290.03,2498.86 1247.94,2498.86" fill="#fff" stroke-width="3.8" stroke-linejoin="round"/>
<rect x="1266.99" y="2485.31" width="4" height="2.8" fill="#000" stroke="none"/>
<polygon points="1462.78,2257.55 1483.82,2294 1441.73,2294" fill="#fff" stroke-width="3.8" stroke-linejoin="round"/>
<rect x="1460.78" y="2280.45" width="4" height="2.8" fill="#000" stroke="none"/>
<polygon points="1647.54,2273.3 1668.58,2309.76 1626.5,2309.76" fill="#fff" stroke-width="3.8" stroke-linejoin="round"/>
<rect x="1645.54" y="2296.2" width="4" height="2.8" fill="#000" stroke="none"/>
<polygon points="1824.66,2352.1 1845.7,2388.55 1803.62,2388.55" fill="#fff" stroke-width="3.8" stroke-linejoin="round"/>
<rect x="1822.66" y="2375" width="4" height="2.8" fill="#000" stroke="none"/>
<polyline points="317.4,2266.09 501.47,2108.5 685.53,2203.05 880.02,2470.95 1073.81,2486.71 1268.99,2407.92 1462.78,2329.12 1647.54,2250.33 1824.66,2329.12" fill="none" stroke-width="3.5" />
<circle cx="317.4" cy="2266.09" r="19.5" fill="#000" stroke="none"/>
<circle cx="311.4" cy="2260.29" r="10.3" fill="#8c8c8c" stroke="none"/>
<circle cx="311.4" cy="2260.29" r="6.6" fill="#c4c4c4" stroke="none"/>
<circle cx="311.4" cy="2260.29" r="3.6" fill="#fafafa" stroke="none"/>
<circle cx="501.47" cy="2108.5" r="19.5" fill="#000" stroke="none"/>
<circle cx="495.47" cy="2102.7" r="10.3" fill="#8c8c8c" stroke="none"/>
<circle cx="495.47" cy="2102.7" r="6.6" fill="#c4c4c4" stroke="none"/>
<circle cx="495.47" cy="2102.7" r="3.6" fill="#fafafa" stroke="none"/>
<circle cx="685.53" cy="2203.05" r="19.5" fill="#000" stroke="none"/>
<circle cx="679.53" cy="2197.25" r="10.3" fill="#8c8c8c" stroke="none"/>
<circle cx="679.53" cy="2197.25" r="6.6" fill="#c4c4c4" stroke="none"/>
<circle cx="679.53" cy="2197.25" r="3.6" fill="#fafafa" stroke="none"/>
<circle cx="880.02" cy="2470.95" r="19.5" fill="#000" stroke="none"/>
<circle cx="874.02" cy="2465.15" r="10.3" fill="#8c8c8c" stroke="none"/>
<circle cx="874.02" cy="2465.15" r="6.6" fill="#c4c4c4" stroke="none"/>
<circle cx="874.02" cy="2465.15" r="3.6" fill="#fafafa" stroke="none"/>
<circle cx="1073.81" cy="2486.71" r="19.5" fill="#000" stroke="none"/>
<circle cx="1067.81" cy="2480.91" r="10.3" fill="#8c8c8c" stroke="none"/>
<circle cx="1067.81" cy="2480.91" r="6.6" fill="#c4c4c4" stroke="none"/>
<circle cx="1067.81" cy="2480.91" r="3.6" fill="#fafafa" stroke="none"/>
<circle cx="1268.99" cy="2407.92" r="19.5" fill="#000" stroke="none"/>
<circle cx="1262.99" cy="2402.12" r="10.3" fill="#8c8c8c" stroke="none"/>
<circle cx="1262.99" cy="2402.12" r="6.6" fill="#c4c4c4" stroke="none"/>
<circle cx="1262.99" cy="2402.12" r="3.6" fill="#fafafa" stroke="none"/>
<circle cx="1462.78" cy="2329.12" r="19.5" fill="#000" stroke="none"/>
<circle cx="1456.78" cy="2323.32" r="10.3" fill="#8c8c8c" stroke="none"/>
<circle cx="1456.78" cy="2323.32" r="6.6" fill="#c4c4c4" stroke="none"/>
<circle cx="1456.78" cy="2323.32" r="3.6" fill="#fafafa" stroke="none"/>
<circle cx="1647.54" cy="2250.33" r="19.5" fill="#000" stroke="none"/>
<circle cx="1641.54" cy="2244.53" r="10.3" fill="#8c8c8c" stroke="none"/>
<circle cx="1641.54" cy="2244.53" r="6.6" fill="#c4c4c4" stroke="none"/>
<circle cx="1641.54" cy="2244.53" r="3.6" fill="#fafafa" stroke="none"/>
<circle cx="1824.66" cy="2329.12" r="19.5" fill="#000" stroke="none"/>
<circle cx="1818.66" cy="2323.32" r="10.3" fill="#8c8c8c" stroke="none"/>
<circle cx="1818.66" cy="2323.32" r="6.6" fill="#c4c4c4" stroke="none"/>
<circle cx="1818.66" cy="2323.32" r="3.6" fill="#fafafa" stroke="none"/>
<polyline points="317.4,2187.29 501.47,2108.5 685.53,2203.05 880.02,2439.44 1073.81,2470.95 1268.99,2392.16 1462.78,2297.61 1647.54,2281.85 1824.66,2329.12" fill="none" stroke-width="3.5" />
<polygon points="317.4,2211.59 338.44,2175.14 296.36,2175.14" fill="#fff" stroke-width="3.8" stroke-linejoin="round"/>
<rect x="315.4" y="2185.89" width="4" height="2.8" fill="#000" stroke="none"/>
<polygon points="501.47,2132.8 522.51,2096.35 480.42,2096.35" fill="#fff" stroke-width="3.8" stroke-linejoin="round"/>
<rect x="499.47" y="2107.1" width="4" height="2.8" fill="#000" stroke="none"/>
<polygon points="685.53,2227.35 706.58,2190.9 664.49,2190.9" fill="#fff" stroke-width="3.8" stroke-linejoin="round"/>
<rect x="683.53" y="2201.65" width="4" height="2.8" fill="#000" stroke="none"/>
<polygon points="880.02,2463.74 901.06,2427.29 858.97,2427.29" fill="#fff" stroke-width="3.8" stroke-linejoin="round"/>
<rect x="878.02" y="2438.04" width="4" height="2.8" fill="#000" stroke="none"/>
<polygon points="1073.81,2495.25 1094.85,2458.8 1052.76,2458.8" fill="#fff" stroke-width="3.8" stroke-linejoin="round"/>
<rect x="1071.81" y="2469.55" width="4" height="2.8" fill="#000" stroke="none"/>
<polygon points="1268.99,2416.46 1290.03,2380.01 1247.94,2380.01" fill="#fff" stroke-width="3.8" stroke-linejoin="round"/>
<rect x="1266.99" y="2390.76" width="4" height="2.8" fill="#000" stroke="none"/>
<polygon points="1462.78,2321.91 1483.82,2285.45 1441.73,2285.45" fill="#fff" stroke-width="3.8" stroke-linejoin="round"/>
<rect x="1460.78" y="2296.2" width="4" height="2.8" fill="#000" stroke="none"/>
<polygon points="1647.54,2306.15 1668.58,2269.7 1626.5,2269.7" fill="#fff" stroke-width="3.8" stroke-linejoin="round"/>
<rect x="1645.54" y="2280.45" width="4" height="2.8" fill="#000" stroke="none"/>
<polygon points="1824.66,2353.42 1845.7,2316.97 1803.62,2316.97" fill="#fff" stroke-width="3.8" stroke-linejoin="round"/>
<rect x="1822.66" y="2327.72" width="4" height="2.8" fill="#000" stroke="none"/>
</g>
<rect x="291" y="1592" width="1579" height="506" fill="#fff" stroke="none"/>
<g fill="none" transform="matrix(1.010524,0,0,1.018137,-2.12,1552.17)">
<polyline points="371.7,373.35 376.71,371.45 381.71,369.5 386.72,367.5 391.72,365.45 396.73,363.35 401.73,361.2 406.74,359 411.74,356.75 416.75,354.45 421.75,352.1 426.76,349.7 431.76,347.25 436.77,344.75 441.77,342.2 446.78,339.61 451.78,336.96 456.79,334.26 461.79,331.51 466.8,328.72 471.8,325.87 476.81,322.97 481.81,320.03 486.82,317.03 491.82,313.99 496.83,310.89 501.83,307.75 506.84,304.55 511.84,301.31 516.85,298.01 521.85,294.67 526.86,291.27 531.86,287.83 536.87,284.34 541.87,280.79 546.88,277.2 551.88,273.56 556.89,269.86 561.89,266.12 566.9,262.33 571.9,258.49 576.91,254.6 581.91,250.65 586.92,246.66 591.92,242.62 596.93,238.53 601.93,234.39 606.94,230.2 611.94,225.96 616.95,221.67 621.95,217.33 626.96,212.94 631.96,208.5 636.97,204.01 641.97,199.48 646.98,194.89 651.98,190.25 656.99,185.56 661.99,180.82 667,176.04" fill="none" stroke-width="1.6" />
<polyline points="1752,373.35 1746.99,371.45 1741.99,369.5 1736.98,367.5 1731.98,365.45 1726.97,363.35 1721.97,361.2 1716.96,359 1711.96,356.75 1706.95,354.45 1701.95,352.1 1696.94,349.7 1691.94,347.25 1686.93,344.75 1681.93,342.2 1676.92,339.61 1671.92,336.96 1666.91,334.26 1661.91,331.51 1656.9,328.72 1651.9,325.87 1646.89,322.97 1641.89,320.03 1636.88,317.03 1631.88,313.99 1626.87,310.89 1621.87,307.75 1616.86,304.55 1611.86,301.31 1606.85,298.01 1601.85,294.67 1596.84,291.27 1591.84,287.83 1586.83,284.34 1581.83,280.79 1576.82,277.2 1571.82,273.56 1566.81,269.86 1561.81,266.12 1556.8,262.33 1551.8,258.49 1546.79,254.6 1541.79,250.65 1536.78,246.66 1531.78,242.62 1526.77,238.53 1521.77,234.39 1516.76,230.2 1511.76,225.96 1506.75,221.67 1501.75,217.33 1496.74,212.94 1491.74,208.5 1486.73,204.01 1481.73,199.48 1476.72,194.89 1471.72,190.25 1466.71,185.56 1461.71,180.82 1456.7,176.04" fill="none" stroke-width="1.6" />
<polyline points="686,174.32 692.32,178.84 698.63,183.29 704.95,187.66 711.27,191.95 717.58,196.16 723.9,200.3 730.22,204.37 736.53,208.35 742.85,212.26 749.17,216.09 755.48,219.85 761.8,223.53 768.12,227.13 774.44,230.66 780.75,234.11 787.07,237.48 793.39,240.78 799.7,243.99 806.02,247.14 812.34,250.2 818.65,253.19 824.97,256.11 831.29,258.94 837.6,261.7 843.92,264.38 850.24,266.99 856.55,269.52 862.87,271.97 869.19,274.35 875.5,276.65 881.82,278.87 888.14,281.02 894.45,283.09 900.77,285.08 907.09,287 913.41,288.83 919.72,290.6 926.04,292.28 932.36,293.89 938.67,295.43 944.99,296.88 951.31,298.26 957.62,299.57 963.94,300.79 970.26,301.94 976.57,303.02 982.89,304.01 989.21,304.93 995.52,305.77 1001.84,306.54 1008.16,307.23 1014.47,307.84 1020.79,308.38 1027.11,308.84 1033.42,309.22 1039.74,309.53 1046.06,309.76 1052.37,309.91 1058.69,309.99 1065.01,309.99 1071.33,309.91 1077.64,309.76 1083.96,309.53 1090.28,309.22 1096.59,308.84 1102.91,308.38 1109.23,307.84 1115.54,307.23 1121.86,306.54 1128.18,305.77 1134.49,304.93 1140.81,304.01 1147.13,303.02 1153.44,301.94 1159.76,300.79 1166.08,299.57 1172.39,298.26 1178.71,296.88 1185.03,295.43 1191.34,293.89 1197.66,292.28 1203.98,290.6 1210.29,288.83 1216.61,287 1222.93,285.08 1229.25,283.09 1235.56,281.02 1241.88,278.87 1248.2,276.65 1254.51,274.35 1260.83,271.97 1267.15,269.52 1273.46,266.99 1279.78,264.38 1286.1,261.7 1292.41,258.94 1298.73,256.11 1305.05,253.19 1311.36,250.2 1317.68,247.14 1324,243.99 1330.31,240.78 1336.63,237.48 1342.95,234.11 1349.26,230.66 1355.58,227.13 1361.9,223.53 1368.22,219.85 1374.53,216.09 1380.85,212.26 1387.17,208.35 1393.48,204.37 1399.8,200.3 1406.12,196.16 1412.43,191.95 1418.75,187.66 1425.07,183.29 1431.38,178.84 1437.7,174.32" fill="none" stroke-width="1.6" />
<line x1="394" y1="364.5" x2="394" y2="376.83" stroke-width="1.6" />
<line x1="428.46" y1="348.87" x2="428.46" y2="376.02" stroke-width="1.6" />
<line x1="462.92" y1="330.89" x2="462.92" y2="375.21" stroke-width="1.6" />
<line x1="497.38" y1="310.55" x2="497.38" y2="374.4" stroke-width="1.6" />
<line x1="531.84" y1="287.84" x2="531.84" y2="373.59" stroke-width="1.6" />
<line x1="566.3" y1="262.78" x2="566.3" y2="372.87" stroke-width="1.6" />
<line x1="600.76" y1="235.37" x2="600.76" y2="372.18" stroke-width="1.6" />
<line x1="635.22" y1="205.59" x2="635.22" y2="371.48" stroke-width="1.6" />
<line x1="717.85" y1="196.34" x2="717.85" y2="369.85" stroke-width="1.6" />
<line x1="752.25" y1="217.94" x2="752.25" y2="369.19" stroke-width="1.6" />
<line x1="786.65" y1="237.26" x2="786.65" y2="368.53" stroke-width="1.6" />
<line x1="821.05" y1="254.31" x2="821.05" y2="367.87" stroke-width="1.6" />
<line x1="855.45" y1="269.08" x2="855.45" y2="367.22" stroke-width="1.6" />
<line x1="889.85" y1="281.59" x2="889.85" y2="366.56" stroke-width="1.6" />
<line x1="924.25" y1="291.81" x2="924.25" y2="365.9" stroke-width="1.6" />
<line x1="958.65" y1="299.77" x2="958.65" y2="365.6" stroke-width="1.6" />
<line x1="993.05" y1="305.45" x2="993.05" y2="365.6" stroke-width="1.6" />
<line x1="1027.45" y1="308.86" x2="1027.45" y2="365.6" stroke-width="1.6" />
<line x1="1061.85" y1="310" x2="1061.85" y2="365.6" stroke-width="1.6" />
<line x1="1096.25" y1="308.86" x2="1096.25" y2="365.6" stroke-width="1.6" />
<line x1="1130.65" y1="305.45" x2="1130.65" y2="365.6" stroke-width="1.6" />
<line x1="1165.05" y1="299.77" x2="1165.05" y2="365.6" stroke-width="1.6" />
<line x1="1199.45" y1="291.81" x2="1199.45" y2="365.9" stroke-width="1.6" />
<line x1="1233.85" y1="281.59" x2="1233.85" y2="366.56" stroke-width="1.6" />
<line x1="1268.25" y1="269.08" x2="1268.25" y2="367.22" stroke-width="1.6" />
<line x1="1302.65" y1="254.31" x2="1302.65" y2="367.87" stroke-width="1.6" />
<line x1="1337.05" y1="237.26" x2="1337.05" y2="368.53" stroke-width="1.6" />
<line x1="1371.45" y1="217.94" x2="1371.45" y2="369.19" stroke-width="1.6" />
<line x1="1405.85" y1="196.34" x2="1405.85" y2="369.85" stroke-width="1.6" />
<line x1="1488.48" y1="205.59" x2="1488.48" y2="371.48" stroke-width="1.6" />
<line x1="1522.94" y1="235.37" x2="1522.94" y2="372.18" stroke-width="1.6" />
<line x1="1557.4" y1="262.78" x2="1557.4" y2="372.87" stroke-width="1.6" />
<line x1="1591.86" y1="287.84" x2="1591.86" y2="373.59" stroke-width="1.6" />
<line x1="1626.32" y1="310.55" x2="1626.32" y2="374.4" stroke-width="1.6" />
<line x1="1660.78" y1="330.89" x2="1660.78" y2="375.21" stroke-width="1.6" />
<line x1="1695.24" y1="348.87" x2="1695.24" y2="376.02" stroke-width="1.6" />
<line x1="1729.7" y1="364.5" x2="1729.7" y2="376.83" stroke-width="1.6" />
<polyline points="315.8,378.8 395,376.8 540,373.4 689,370.4 940,365.6 1061.85,365.6 1183.7,365.6 1434.7,370.4 1583.7,373.4 1728.7,376.8 1807.9,378.8" fill="none" stroke-width="1.5" />
<polyline points="371.7,397.3 395,396.3 540,392.9 689,389.9 940,385.1 1061.85,385.1 1183.7,385.1 1434.7,389.9 1583.7,392.9 1728.7,396.3 1752,397.3" fill="none" stroke-width="1.5" />
<polyline points="315,395.3 302.3,395.3 302.3,414.5 345.3,414.5 371.7,397.3" fill="none" stroke-width="1.5" />
<polygon points="304.9,397.7 314.5,395.3 361,378.2 317,413.2" fill="#000" stroke-width="0.8" />
<polygon points="350,377.6 369.2,369.3 371.3,374.3 354.5,378.2" fill="none" stroke-width="1.2" />
<line x1="676.5" y1="65" x2="676.5" y2="99" stroke-width="3" />
<polyline points="672.3,133.3 672.3,98.8 679.8,98.8 679.8,133.3" fill="none" stroke-width="1.3" />
<polygon points="675,102 678,102 678,118.5 675,118.5" fill="#000" stroke-width="0.5" />
<line x1="671" y1="106" x2="681" y2="106" stroke-width="1.4" />
<line x1="671" y1="110.7" x2="681" y2="110.7" stroke-width="1.4" />
<line x1="671" y1="114.9" x2="681" y2="114.9" stroke-width="1.4" />
<line x1="664.2" y1="133.4" x2="688.7" y2="133.4" stroke-width="1.4" />
<polygon points="662,140.1 690.7,140.1 690.7,142.6 662,142.6" fill="none" stroke-width="1.2" />
<polygon points="662,144.3 690.9,144.3 690.9,151.9 662,151.9" fill="#000" stroke-width="0.5" />
<line x1="664.5" y1="133.4" x2="664.5" y2="390.3" stroke-width="1.2" />
<line x1="688.4" y1="133.4" x2="688.4" y2="390.3" stroke-width="1.2" />
<polyline points="671.4,172.8 676.6,167.2 681.8,172.8" fill="none" stroke-width="1.2" />
<path d="M 664.9,179.5 Q 676.4,166.5 687.9,179.5" fill="none" stroke-width="2.2"/>
<line x1="664.5" y1="181" x2="688.4" y2="181" stroke-width="1.4" />
<polyline points="666.8,370.5 666.8,189.5 668.8,187.3 683.9,187.3 685.9,189.5 685.9,370.5" fill="none" stroke-width="1.3" />
<polyline points="664,390.3 655.3,457 697.4,457 688.3,390.3" fill="none" stroke-width="1.4" />
<line x1="655.3" y1="457" x2="697.4" y2="457" stroke-width="2.2" />
<polygon points="669.2,392.3 683.7,392.3 683.7,406.6 669.2,406.6" fill="none" stroke-width="1.3" />
<polygon points="671,390.3 680.7,390.3 680.7,392.5 671,392.5" fill="#000" stroke-width="0.5" />
<polyline points="1808.7,395.3 1821.4,395.3 1821.4,414.5 1778.4,414.5 1752,397.3" fill="none" stroke-width="1.5" />
<polygon points="1818.8,397.7 1809.2,395.3 1762.7,378.2 1806.7,413.2" fill="#000" stroke-width="0.8" />
<polygon points="1773.7,377.6 1754.5,369.3 1752.4,374.3 1769.2,378.2" fill="none" stroke-width="1.2" />
<line x1="1447.2" y1="65" x2="1447.2" y2="99" stroke-width="3" />
<polyline points="1451.4,133.3 1451.4,98.8 1443.9,98.8 1443.9,133.3" fill="none" stroke-width="1.3" />
<polygon points="1448.7,102 1445.7,102 1445.7,118.5 1448.7,118.5" fill="#000" stroke-width="0.5" />
<line x1="1452.7" y1="106" x2="1442.7" y2="106" stroke-width="1.4" />
<line x1="1452.7" y1="110.7" x2="1442.7" y2="110.7" stroke-width="1.4" />
<line x1="1452.7" y1="114.9" x2="1442.7" y2="114.9" stroke-width="1.4" />
<line x1="1459.5" y1="133.4" x2="1435" y2="133.4" stroke-width="1.4" />
<polygon points="1461.7,140.1 1433,140.1 1433,142.6 1461.7,142.6" fill="none" stroke-width="1.2" />
<polygon points="1461.7,144.3 1432.8,144.3 1432.8,151.9 1461.7,151.9" fill="#000" stroke-width="0.5" />
<line x1="1459.2" y1="133.4" x2="1459.2" y2="390.3" stroke-width="1.2" />
<line x1="1435.3" y1="133.4" x2="1435.3" y2="390.3" stroke-width="1.2" />
<polyline points="1452.3,172.8 1447.1,167.2 1441.9,172.8" fill="none" stroke-width="1.2" />
<path d="M 1458.8,179.5 Q 1447.3,166.5 1435.8,179.5" fill="none" stroke-width="2.2"/>
<line x1="1459.2" y1="181" x2="1435.3" y2="181" stroke-width="1.4" />
<polyline points="1456.9,370.5 1456.9,189.5 1454.9,187.3 1439.8,187.3 1437.8,189.5 1437.8,370.5" fill="none" stroke-width="1.3" />
<polyline points="1459.7,390.3 1468.4,457 1426.3,457 1435.4,390.3" fill="none" stroke-width="1.4" />
<line x1="1468.4" y1="457" x2="1426.3" y2="457" stroke-width="2.2" />
<polygon points="1454.5,392.3 1440,392.3 1440,406.6 1454.5,406.6" fill="none" stroke-width="1.3" />
<polygon points="1452.7,390.3 1443,390.3 1443,392.5 1452.7,392.5" fill="#000" stroke-width="0.5" />
<rect x="306.1" y="366.1" width="9.7" height="27.3" rx="1.2" fill="#000" stroke="none"/>
<rect x="489" y="361.6" width="9.5" height="26.5" rx="1.2" fill="#000" stroke="none"/>
<rect x="671" y="357" width="10" height="26.8" rx="1.2" fill="#000" stroke="none"/>
<rect x="864" y="352.9" width="10" height="27.9" rx="1.2" fill="#000" stroke="none"/>
<rect x="1807.9" y="366.1" width="9.7" height="27.3" rx="1.2" fill="#000" stroke="none"/>
<rect x="1625.2" y="361.6" width="9.5" height="26.5" rx="1.2" fill="#000" stroke="none"/>
<rect x="1442.7" y="357" width="10" height="26.8" rx="1.2" fill="#000" stroke="none"/>
<rect x="1249.7" y="352.9" width="10" height="27.9" rx="1.2" fill="#000" stroke="none"/>
<rect x="1056.7" y="352" width="10.2" height="26.5" rx="1.2" fill="#000" stroke="none"/>
</g>
<g stroke="none">
<text x="301.04" y="2028.2" font-size="61" font-weight="normal" textLength="105.3" lengthAdjust="spacingAndGlyphs" >CS1</text>
<text x="441.37" y="2029.8" font-size="61" font-weight="normal" textLength="107.2" lengthAdjust="spacingAndGlyphs" >CS2</text>
<text x="624.44" y="2073.2" font-size="61" font-weight="normal" textLength="103.92" lengthAdjust="spacingAndGlyphs" >CS3</text>
<text x="821.68" y="2015.8" font-size="61" font-weight="normal" textLength="105.25" lengthAdjust="spacingAndGlyphs" >CS4</text>
<text x="1015.2" y="2015.3" font-size="61" font-weight="normal" textLength="104.33" lengthAdjust="spacingAndGlyphs" >CS5</text>
<text x="1210.02" y="2015.3" font-size="61" font-weight="normal" textLength="104.85" lengthAdjust="spacingAndGlyphs" >CS6</text>
<text x="1404.75" y="2072.8" font-size="61" font-weight="normal" textLength="104.85" lengthAdjust="spacingAndGlyphs" >CS7</text>
<text x="1589.66" y="2029.6" font-size="61" font-weight="normal" textLength="105.49" lengthAdjust="spacingAndGlyphs" >CS8</text>
<text x="1736.17" y="2028.6" font-size="61" font-weight="normal" textLength="106.74" lengthAdjust="spacingAndGlyphs" >CS9</text>
</g>
<rect x="1236" y="2527" width="626" height="208" fill="#fff" stroke="none"/>
<line x1="1118.2" y1="2559" x2="1233" y2="2559" stroke-width="3.8" />
<polygon points="1176.6,2534.4 1197.64,2570.85 1155.56,2570.85" fill="#fff" stroke-width="3.8" stroke-linejoin="round"/>
<rect x="1174.6" y="2557.3" width="4" height="2.8" fill="#000" stroke="none"/>
<line x1="1118.2" y1="2632.6" x2="1233" y2="2632.6" stroke-width="3.8" />
<circle cx="1176.6" cy="2632.3" r="19.5" fill="#000" stroke="none"/>
<circle cx="1170.6" cy="2626.5" r="10.3" fill="#8c8c8c" stroke="none"/>
<circle cx="1170.6" cy="2626.5" r="6.6" fill="#c4c4c4" stroke="none"/>
<circle cx="1170.6" cy="2626.5" r="3.6" fill="#fafafa" stroke="none"/>
<line x1="1118.2" y1="2706.5" x2="1233" y2="2706.5" stroke-width="3.8" />
<polygon points="1176.6,2730.6 1197.64,2694.15 1155.56,2694.15" fill="#fff" stroke-width="3.8" stroke-linejoin="round"/>
<rect x="1174.6" y="2704.9" width="4" height="2.8" fill="#000" stroke="none"/>
<g stroke="none">
<text x="1246.69" y="2576" font-size="62" font-weight="normal" textLength="615.89" lengthAdjust="spacingAndGlyphs" >North bicycle lane (DB1)</text>
<text x="1247.49" y="2649.4" font-size="62" font-weight="normal" textLength="549.6" lengthAdjust="spacingAndGlyphs" >Road centerline (DB2)</text>
<text x="1246.67" y="2723.3" font-size="62" font-weight="normal" textLength="615.96" lengthAdjust="spacingAndGlyphs" >South bicycle lane (DB3)</text>
</g>
<rect x="283.5" y="1588.5" width="1597" height="1181.5" fill="none" stroke-width="5"/>
<line x1="317.4" y1="2744" x2="317.4" y2="2770" stroke-width="4.8" />
<line x1="456.32" y1="2744" x2="456.32" y2="2770" stroke-width="4.8" />
<line x1="595.24" y1="2744" x2="595.24" y2="2770" stroke-width="4.8" />
<line x1="734.15" y1="2744" x2="734.15" y2="2770" stroke-width="4.8" />
<line x1="873.07" y1="2744" x2="873.07" y2="2770" stroke-width="4.8" />
<line x1="1011.99" y1="2744" x2="1011.99" y2="2770" stroke-width="4.8" />
<line x1="1150.91" y1="2744" x2="1150.91" y2="2770" stroke-width="4.8" />
<line x1="1289.83" y1="2744" x2="1289.83" y2="2770" stroke-width="4.8" />
<line x1="1428.74" y1="2744" x2="1428.74" y2="2770" stroke-width="4.8" />
<line x1="1567.66" y1="2744" x2="1567.66" y2="2770" stroke-width="4.8" />
<line x1="1706.58" y1="2744" x2="1706.58" y2="2770" stroke-width="4.8" />
<line x1="1845.5" y1="2744" x2="1845.5" y2="2770" stroke-width="4.8" />
<g stroke="none">
<text x="129.1" y="1603.3" font-size="61" textLength="129.19" lengthAdjust="spacingAndGlyphs">0.050</text>
<text x="129.1" y="1760.89" font-size="61" textLength="129.19" lengthAdjust="spacingAndGlyphs">0.040</text>
<text x="129.1" y="1918.48" font-size="61" textLength="129.19" lengthAdjust="spacingAndGlyphs">0.030</text>
<text x="129.1" y="2076.07" font-size="61" textLength="129.19" lengthAdjust="spacingAndGlyphs">0.020</text>
<text x="129.1" y="2233.66" font-size="61" textLength="129.19" lengthAdjust="spacingAndGlyphs">0.010</text>
<text x="129.1" y="2391.25" font-size="61" textLength="129.19" lengthAdjust="spacingAndGlyphs">0.000</text>
<text x="109.87" y="2548.84" font-size="61" textLength="148.32" lengthAdjust="spacingAndGlyphs"><tspan font-weight="bold">-</tspan>0.010</text>
<text x="109.87" y="2706.43" font-size="61" textLength="148.32" lengthAdjust="spacingAndGlyphs"><tspan font-weight="bold">-</tspan>0.020</text>
<text x="303.26" y="2836.6" font-size="61" textLength="28.28" lengthAdjust="spacingAndGlyphs">0</text>
<text x="427.9" y="2836.6" font-size="61" textLength="56.55" lengthAdjust="spacingAndGlyphs">20</text>
<text x="567.53" y="2836.6" font-size="61" textLength="56.55" lengthAdjust="spacingAndGlyphs">40</text>
<text x="705.74" y="2836.6" font-size="61" textLength="56.55" lengthAdjust="spacingAndGlyphs">60</text>
<text x="844.8" y="2836.6" font-size="61" textLength="56.55" lengthAdjust="spacingAndGlyphs">80</text>
<text x="968.16" y="2836.6" font-size="61" textLength="84.82" lengthAdjust="spacingAndGlyphs">100</text>
<text x="1107.08" y="2836.6" font-size="61" textLength="84.82" lengthAdjust="spacingAndGlyphs">120</text>
<text x="1246" y="2836.6" font-size="61" textLength="84.82" lengthAdjust="spacingAndGlyphs">140</text>
<text x="1384.92" y="2836.6" font-size="61" textLength="84.82" lengthAdjust="spacingAndGlyphs">160</text>
<text x="1523.84" y="2836.6" font-size="61" textLength="84.82" lengthAdjust="spacingAndGlyphs">180</text>
<text x="1664.03" y="2836.6" font-size="61" textLength="84.83" lengthAdjust="spacingAndGlyphs">200</text>
<text x="1802.94" y="2836.6" font-size="61" textLength="84.83" lengthAdjust="spacingAndGlyphs">220</text>
<text x="733.24" y="2943" font-size="63" font-weight="normal" textLength="697.68" lengthAdjust="spacingAndGlyphs" >Distance to section CS1 (m)</text>
<text transform="translate(77.2,2612.8) rotate(-90)" x="-2.49" y="0" font-size="63" textLength="792.49" lengthAdjust="spacingAndGlyphs">Change of girder alignment (m)</text>
<text x="899.93" y="3050.5" font-size="86">(</text>
<text x="926.73" y="3050.5" font-size="86" font-weight="bold" textLength="50.72" lengthAdjust="spacingAndGlyphs">b</text>
<text x="976.26" y="3050.5" font-size="86">)</text>
</g>
</g></svg>
</body></html>
